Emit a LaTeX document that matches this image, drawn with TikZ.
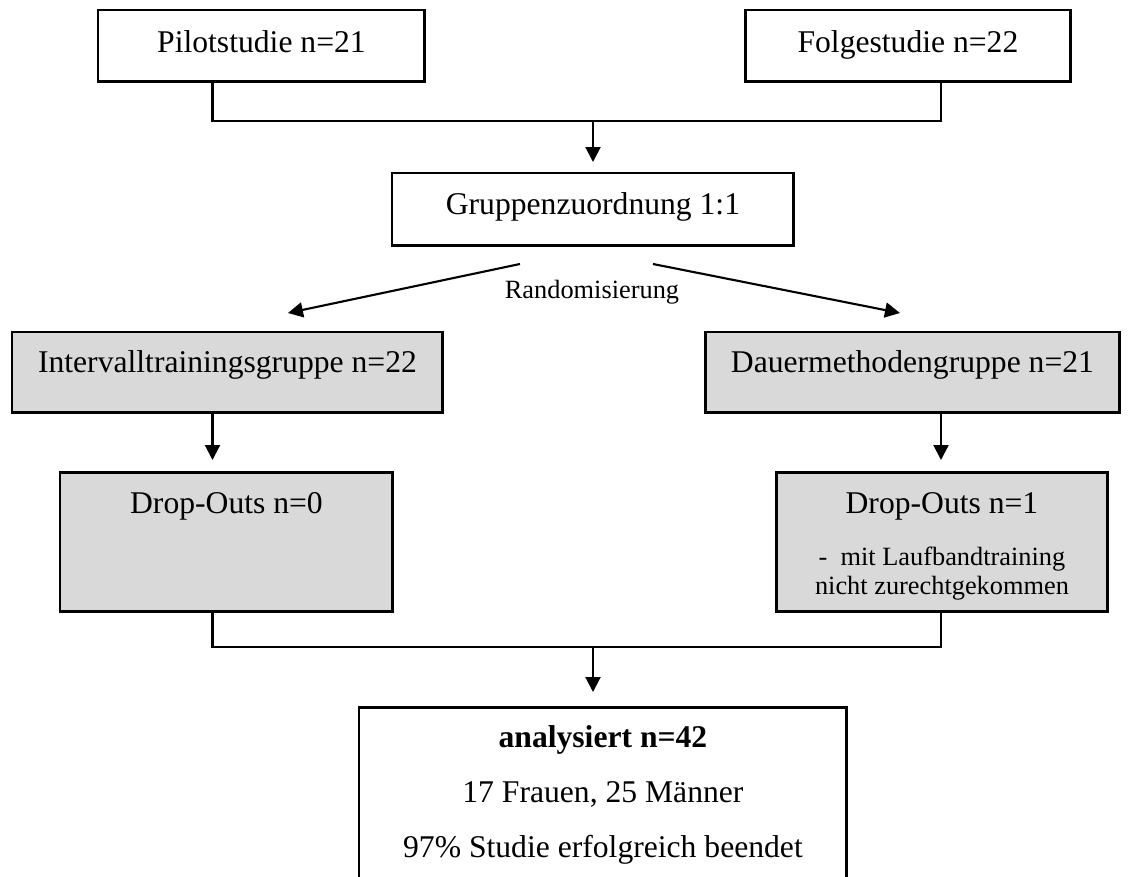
\documentclass[tikz,border=0pt]{standalone}
\usepackage{fontspec}
\setmainfont{Liberation Serif}
\usetikzlibrary{arrows.meta}
\definecolor{boxgrey}{HTML}{D9D9D9}

\begin{document}
\begin{tikzpicture}[x=0.02cm, y=-0.02cm,
	box/.style={draw, line width=1.7pt, inner sep=0pt, outer sep=0pt, anchor=north west, font=\fontsize{18}{20}\selectfont},
	greybox/.style={box, fill=boxgrey},
	conn/.style={line width=1.2pt},
	arr/.style={conn, -{Triangle[length=0.3cm,width=0.3cm]}}]
	\tikzset{small/.style={font=\fontsize{15}{18}\selectfont}}
	\useasboundingbox (0,0) rectangle (1129,876);
	\node[box, minimum width=6.54cm, text height=0.86cm, text depth=0.58cm] (pilot) at (98,10) {Pilotstudie n=21};
	\node[box, minimum width=6.52cm, text height=0.86cm, text depth=0.58cm] (folge) at (745,10) {Folgestudie n=22};
	\node[box, minimum width=8.04cm, text height=0.84cm, text depth=0.62cm] (zuord) at (392,173) {Gruppenzuordnung 1:1};
	\node[small] (rand) at (592,292) {Randomisierung};
	\node[greybox, minimum width=8.62cm, text height=0.82cm, text depth=0.80cm] (intv) at (12,332) {Intervalltrainingsgruppe n=22};
	\node[greybox, minimum width=8.30cm, text height=0.82cm, text depth=0.80cm] (dauer) at (705,332) {Dauermethodengruppe n=21};
	\node[greybox, minimum width=6.66cm, text height=0.82cm, text depth=1.98cm] (drop0) at (60,472) {Drop-Outs n=0};
	\node[greybox, minimum width=6.64cm, text height=0.82cm, text depth=1.98cm] (drop1) at (776,472)
		{\begin{tabular}[t]{@{}c@{}}Drop-Outs n=1\\[10pt]{\fontsize{15}{18}\selectfont -~~mit Laufbandtraining}\\[-3.5pt]{\fontsize{15}{18}\selectfont nicht zurechtgekommen}\end{tabular}};
	\node[box, minimum width=9.76cm, text height=0.80cm, text depth=2.76cm] (anal) at (359,707)
		{\begin{tabular}[t]{@{}c@{}}\textbf{analysiert n=42}\\[11.5pt]17 Frauen, 25 Männer\\[11.5pt]97\% Studie erfolgreich beendet\end{tabular}};
	\coordinate (topL) at (212.5,121);
	\coordinate (topM) at (593,121);
	\coordinate (topR) at (941,121);
	\coordinate (botL) at (212.5,647);
	\coordinate (botM) at (593,647);
	\coordinate (botR) at (941,647);
	\draw[conn] (pilot.south -| topL) -- (topL) -- (topR) -- (folge.south -| topR);
	\draw[arr, shorten >=0.22cm] (topM) -- (zuord.north -| topM);
	\draw[arr] ([xshift=-1.46cm,yshift=-0.36cm]zuord.south) -- ([xshift=1.21cm,yshift=0.38cm]intv.north);
	\draw[arr] ([xshift=1.2cm,yshift=-0.36cm]zuord.south) -- ([xshift=-0.25cm,yshift=0.38cm]dauer.north);
	\draw[arr, shorten >=0.24cm] (intv.south -| botL) -- (drop0.north -| botL);
	\draw[arr, shorten >=0.24cm] (dauer.south -| botR) -- (drop1.north -| botR);
	\draw[conn] (drop0.south -| botL) -- (botL) -- (botR) -- (drop1.south -| botR);
	\draw[arr, shorten >=0.3cm] (botM) -- (anal.north -| botM);
\end{tikzpicture}
\end{document}
